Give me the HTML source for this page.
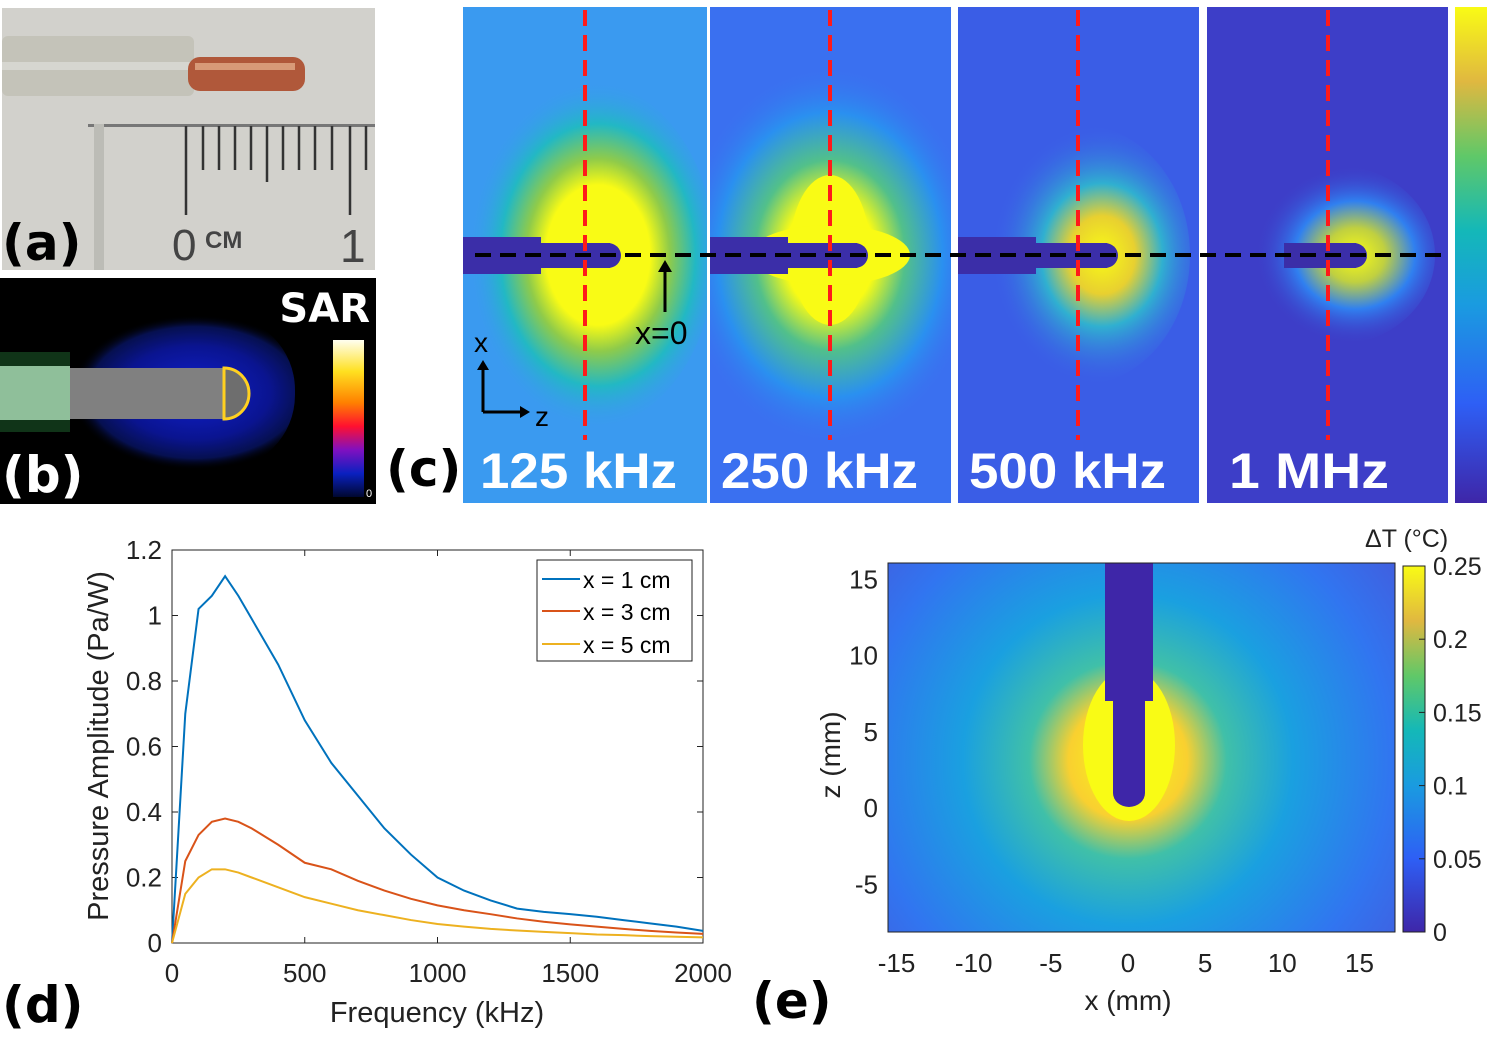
<!DOCTYPE html>
<html><head><meta charset="utf-8"><style>
body{margin:0;background:#fff;width:1493px;height:1037px;overflow:hidden;font-family:"Liberation Sans",sans-serif}
svg{position:absolute;left:0;top:0}
.lbl{font-weight:bold;font-size:50px;font-family:"DejaVu Sans","Liberation Sans",sans-serif}
</style></head><body>
<svg id="fig" width="1493" height="1037" viewBox="0 0 1493 1037">
<defs>
<clipPath id="c1"><rect x="463" y="7" width="244" height="496"/></clipPath>
<clipPath id="c2"><rect x="710" y="7" width="241" height="496"/></clipPath>
<clipPath id="c3"><rect x="958" y="7" width="241" height="496"/></clipPath>
<clipPath id="c4"><rect x="1207" y="7" width="241" height="496"/></clipPath>
<radialGradient id="g125" cx="0.55" cy="0.5" r="0.5">
<stop offset="0" stop-color="#f9fb15"/><stop offset="0.4" stop-color="#f9fb15"/><stop offset="0.55" stop-color="#8fcb4a"/><stop offset="0.75" stop-color="#22b8c4"/><stop offset="1" stop-color="#3a9af0" stop-opacity="0"/></radialGradient>
<radialGradient id="g250" cx="0.5" cy="0.5" r="0.5">
<stop offset="0" stop-color="#f9fb15"/><stop offset="0.3" stop-color="#f9fb15"/><stop offset="0.5" stop-color="#52c08a"/><stop offset="0.75" stop-color="#2a90f0"/><stop offset="1" stop-color="#3a70f0" stop-opacity="0"/></radialGradient>
<radialGradient id="g500" cx="0.6" cy="0.5" r="0.5">
<stop offset="0" stop-color="#f9fb15"/><stop offset="0.3" stop-color="#e8d030"/><stop offset="0.55" stop-color="#30b0d0"/><stop offset="1" stop-color="#3a60e8" stop-opacity="0"/></radialGradient>
<radialGradient id="g1m" cx="0.6" cy="0.5" r="0.5">
<stop offset="0" stop-color="#f9fb15"/><stop offset="0.3" stop-color="#c0d040"/><stop offset="0.6" stop-color="#3080f0"/><stop offset="1" stop-color="#3d3ec8" stop-opacity="0"/></radialGradient>
<radialGradient id="ge" cx="1128" cy="760" r="330" gradientUnits="userSpaceOnUse">
<stop offset="0" stop-color="#f9fb15"/><stop offset="0.18" stop-color="#f9d030"/><stop offset="0.3" stop-color="#40c0a8"/><stop offset="0.5" stop-color="#1aa0e0"/><stop offset="0.8" stop-color="#3175f0"/><stop offset="1" stop-color="#4060e0"/></radialGradient>
<radialGradient id="gsar" cx="0.6" cy="0.5" r="0.5">
<stop offset="0" stop-color="#1020d0"/><stop offset="0.6" stop-color="#0a1490"/><stop offset="0.85" stop-color="#061050"/><stop offset="1" stop-color="#000" stop-opacity="0"/></radialGradient>
<linearGradient id="parula" x1="0" y1="1" x2="0" y2="0">
<stop offset="0" stop-color="#3e26a8"/><stop offset="0.2" stop-color="#2e5ff5"/><stop offset="0.4" stop-color="#1a9be0"/><stop offset="0.55" stop-color="#14b8b8"/><stop offset="0.7" stop-color="#60c868"/><stop offset="0.85" stop-color="#e0b840"/><stop offset="1" stop-color="#f9fb15"/></linearGradient>
<linearGradient id="sarbar" x1="0" y1="1" x2="0" y2="0">
<stop offset="0" stop-color="#000830"/><stop offset="0.15" stop-color="#0a20c0"/><stop offset="0.3" stop-color="#8010c0"/><stop offset="0.45" stop-color="#ff1030"/><stop offset="0.6" stop-color="#ff8000"/><stop offset="0.8" stop-color="#ffe020"/><stop offset="1" stop-color="#fffff0"/></linearGradient>
</defs>

<!-- panel a -->
<g>
<rect x="2" y="8" width="373" height="262" fill="#d2d1cc"/>
<rect x="2" y="36" width="192" height="60" rx="6" fill="#c4c3b9"/>
<rect x="2" y="62" width="190" height="8" fill="#d6d6d0"/>
<rect x="188" y="57" width="117" height="34" rx="12" fill="#b0583a"/>
<rect x="195" y="63" width="100" height="7" fill="#d89a78"/>
<rect x="88" y="124" width="287" height="3" fill="#777"/>
<rect x="94" y="124" width="10" height="146" fill="#bcbcb6"/>
<g stroke="#333" stroke-width="2.5">
<line x1="186" y1="126" x2="186" y2="215"/><line x1="203" y1="126" x2="203" y2="170"/><line x1="219" y1="126" x2="219" y2="170"/><line x1="235" y1="126" x2="235" y2="170"/><line x1="251" y1="126" x2="251" y2="170"/><line x1="267" y1="126" x2="267" y2="182"/><line x1="283" y1="126" x2="283" y2="170"/><line x1="299" y1="126" x2="299" y2="170"/><line x1="315" y1="126" x2="315" y2="170"/><line x1="332" y1="126" x2="332" y2="170"/><line x1="350" y1="126" x2="350" y2="215"/><line x1="366" y1="126" x2="366" y2="170"/></g>
<text x="172" y="260" font-size="44" fill="#444">0</text>
<text x="205" y="248" font-size="24" fill="#444" font-weight="bold">CM</text>
<text x="340" y="262" font-size="46" fill="#444">1</text>
<text class="lbl" x="2" y="260" fill="#000">(a)</text>
</g>

<!-- panel b -->
<g>
<rect x="0" y="278" width="376" height="226" fill="#000"/>
<rect x="45" y="315" width="250" height="155" rx="75" fill="url(#gsar)"/>
<rect x="0" y="352" width="70" height="80" fill="#103418"/>
<rect x="0" y="366" width="70" height="54" fill="#8fbf9a"/>
<rect x="70" y="368" width="155" height="51" fill="#808080"/>
<path d="M224 368 A25 25.5 0 0 1 224 419 Z" fill="#6e6e6e" stroke="#ffd020" stroke-width="3"/>
<text x="370" y="322" font-size="40" font-weight="bold" fill="#fff" text-anchor="end" font-family="DejaVu Sans,sans-serif">SAR</text>
<rect x="333" y="340" width="31" height="157" fill="url(#sarbar)"/>
<text x="366" y="497" font-size="11" fill="#fff">0</text>
<text class="lbl" x="2" y="492" fill="#fff">(b)</text>
</g>

<text class="lbl" x="386" y="486" fill="#000">(c)</text>

<!-- panel c -->
<g>
<g clip-path="url(#c1)">
<rect x="463" y="7" width="244" height="496" fill="#3a9af0"/>
<ellipse cx="585" cy="255" rx="130" ry="175" fill="url(#g125)"/>
</g>
<g clip-path="url(#c2)">
<rect x="710" y="7" width="241" height="496" fill="#3a70f0"/>
<ellipse cx="830" cy="255" rx="150" ry="190" fill="url(#g250)"/>
<ellipse cx="830" cy="250" rx="40" ry="75" fill="#f9fb15"/>
<ellipse cx="830" cy="255" rx="80" ry="30" fill="#f9fb15"/>
</g>
<g clip-path="url(#c3)">
<rect x="958" y="7" width="241" height="496" fill="#3a5de6"/>
<ellipse cx="1080" cy="255" rx="110" ry="130" fill="url(#g500)"/>
</g>
<g clip-path="url(#c4)">
<rect x="1207" y="7" width="241" height="496" fill="#3d3ec8"/>
<ellipse cx="1335" cy="255" rx="100" ry="90" fill="url(#g1m)"/>
</g>
<g fill="#3b2ea8">
<rect x="463" y="237" width="78" height="37"/><rect x="540" y="243" width="70" height="25"/><path d="M608 243 A13 12.5 0 0 1 608 268Z"/>
<rect x="710" y="237" width="78" height="37"/><rect x="787" y="243" width="70" height="25"/><path d="M855 243 A13 12.5 0 0 1 855 268Z"/>
<rect x="958" y="237" width="78" height="37"/><rect x="1035" y="243" width="72" height="25"/><path d="M1105 243 A13 12.5 0 0 1 1105 268Z"/>
<rect x="1284" y="243" width="72" height="25"/><path d="M1354 243 A13 12.5 0 0 1 1354 268Z"/>
</g>
<line x1="475" y1="255" x2="1445" y2="255" stroke="#000" stroke-width="4" stroke-dasharray="16,9"/>
<g stroke="#ff1a1a" stroke-width="4" stroke-dasharray="16,9">
<line x1="585" y1="10" x2="585" y2="440"/><line x1="830" y1="10" x2="830" y2="440"/><line x1="1078" y1="10" x2="1078" y2="440"/><line x1="1328" y1="10" x2="1328" y2="440"/></g>
<line x1="665" y1="312" x2="665" y2="270" stroke="#000" stroke-width="3"/><path d="M658 272 L665 260 L672 272Z" fill="#000"/>
<text x="635" y="344" font-size="32" fill="#000">x=0</text>
<path d="M483 412 V368 M483 412 H522" stroke="#000" stroke-width="3" fill="none"/>
<path d="M477 370 L483 360 L489 370Z M520 406 L530 412 L520 418Z" fill="#000"/>
<text x="474" y="352" font-size="28" fill="#000">x</text>
<text x="535" y="426" font-size="28" fill="#000">z</text>
<g font-size="50" font-weight="bold" fill="#fff" font-family="Liberation Sans,sans-serif">
<text x="480" y="488" textLength="197" lengthAdjust="spacingAndGlyphs">125 kHz</text><text x="721" y="488" textLength="197" lengthAdjust="spacingAndGlyphs">250 kHz</text><text x="969" y="488" textLength="197" lengthAdjust="spacingAndGlyphs">500 kHz</text><text x="1229" y="488" textLength="160" lengthAdjust="spacingAndGlyphs">1 MHz</text></g>
<rect x="1455" y="7" width="32" height="496" fill="url(#parula)"/>
</g>

<!-- panel d -->
<g id="pd">
<rect x="172" y="550" width="531" height="393" fill="#fff" stroke="#222" stroke-width="1"/>
<g id="dticks"></g>
<g id="dlines"></g>
<g>
<rect x="537" y="560" width="155" height="101" fill="#fff" stroke="#222"/>
<line x1="542" y1="579" x2="580" y2="579" stroke="#0072bd" stroke-width="2"/><text x="583" y="588" font-size="23">x = 1 cm</text>
<line x1="542" y1="611" x2="580" y2="611" stroke="#d95319" stroke-width="2"/><text x="583" y="620" font-size="23">x = 3 cm</text>
<line x1="542" y1="644" x2="580" y2="644" stroke="#edb120" stroke-width="2"/><text x="583" y="653" font-size="23">x = 5 cm</text>
</g>
<text x="437" y="1022" font-size="29" text-anchor="middle" fill="#222">Frequency (kHz)</text>
<text transform="translate(108 746) rotate(-90)" font-size="29" text-anchor="middle" fill="#222">Pressure Amplitude (Pa/W)</text>
<text class="lbl" x="2" y="1022" fill="#000">(d)</text>
</g>

<!-- panel e -->
<g id="pe">
<rect x="888" y="563" width="507" height="369" fill="url(#ge)"/>
<ellipse cx="1129" cy="745" rx="46" ry="76" fill="#f9fb15"/>
<rect x="1105" y="563" width="48" height="138" fill="#3e26a8"/>
<path d="M1113 700 H1145 V793 A16 14 0 0 1 1113 793 Z" fill="#3e26a8"/>
<rect x="888" y="563" width="507" height="369" fill="none" stroke="#222"/>
<rect x="1403" y="566" width="22" height="366" fill="url(#parula)" stroke="#222"/>
<g id="eticks"></g>
<text x="1365" y="547" font-size="25" fill="#222">ΔT (°C)</text>
<text x="1128" y="1010" font-size="28" text-anchor="middle" fill="#222">x (mm)</text>
<text transform="translate(840 755) rotate(-90)" font-size="28" text-anchor="middle" fill="#222">z (mm)</text>
<text class="lbl" x="752" y="1018" fill="#000">(e)</text>
</g>
</svg>
<script>
const freqs=[0,50,100,150,200,250,300,400,500,600,700,800,900,1000,1100,1200,1300,1400,1500,1600,1700,1800,1900,2000];
const s1=[0,0.7,1.02,1.06,1.12,1.06,0.99,0.85,0.68,0.55,0.45,0.35,0.27,0.2,0.16,0.13,0.105,0.095,0.088,0.08,0.07,0.06,0.05,0.037];
const s3=[0,0.25,0.33,0.37,0.38,0.37,0.35,0.3,0.245,0.225,0.19,0.16,0.135,0.115,0.1,0.088,0.075,0.065,0.057,0.05,0.043,0.037,0.032,0.028];
const s5=[0,0.15,0.2,0.225,0.225,0.215,0.2,0.17,0.14,0.12,0.1,0.085,0.07,0.058,0.05,0.043,0.038,0.034,0.03,0.026,0.024,0.021,0.019,0.017];
const dXTicks=[0,500,1000,1500,2000];
const dYTicks=[0,0.2,0.4,0.6,0.8,1,1.2];
const eXTicks=[-15,-10,-5,0,5,10,15];
const eZTicks=[15,10,5,0,-5];
const cbTicks=[0,0.05,0.1,0.15,0.2,0.25];
const NS='http://www.w3.org/2000/svg';
const xs=f=>172+f/2000*531, ys=v=>943-v/1.2*393;
function mk(t,a,p){const e=document.createElementNS(NS,t);for(const k in a)e.setAttribute(k,a[k]);p.appendChild(e);return e;}
const dt=document.getElementById('dticks');
dXTicks.forEach(t=>{mk('line',{x1:xs(t),x2:xs(t),y1:943,y2:937,stroke:'#222'},dt);mk('line',{x1:xs(t),x2:xs(t),y1:550,y2:556,stroke:'#222'},dt);
const e=mk('text',{x:xs(t),y:982,'font-size':26,'text-anchor':'middle',fill:'#222'},dt);e.textContent=t;

});
dYTicks.forEach(t=>{mk('line',{x1:172,x2:178,y1:ys(t),y2:ys(t),stroke:'#222'},dt);mk('line',{x1:703,x2:697,y1:ys(t),y2:ys(t),stroke:'#222'},dt);
const e=mk('text',{x:162,y:ys(t)+9,'font-size':26,'text-anchor':'end',fill:'#222'},dt);e.textContent=String(t);

});
const dl=document.getElementById('dlines');
[[s1,'#0072bd','series-x1cm'],[s3,'#d95319','series-x3cm'],[s5,'#edb120','series-x5cm']].forEach(([s,c,n])=>{
const p=mk('polyline',{points:s.map((v,i)=>xs(freqs[i])+','+ys(v)).join(' '),fill:'none',stroke:c,'stroke-width':2},dl);

});
const et=document.getElementById('eticks');
const ex=v=>1128+v*15.43, ez=v=>808-v*15.25, cy=v=>932-v/0.25*366;
eXTicks.forEach(t=>{const e=mk('text',{x:ex(t),y:972,'font-size':26,'text-anchor':'middle',fill:'#222'},et);e.textContent=t;

});
eZTicks.forEach(t=>{const e=mk('text',{x:878,y:ez(t)+9,'font-size':26,'text-anchor':'end',fill:'#222'},et);e.textContent=t;

});
cbTicks.forEach(t=>{mk('line',{x1:1419,x2:1425,y1:cy(t),y2:cy(t),stroke:'#222'},et);const e=mk('text',{x:1433,y:cy(t)+9,'font-size':25,fill:'#222'},et);e.textContent=String(t);

});
</script>
</body></html>
